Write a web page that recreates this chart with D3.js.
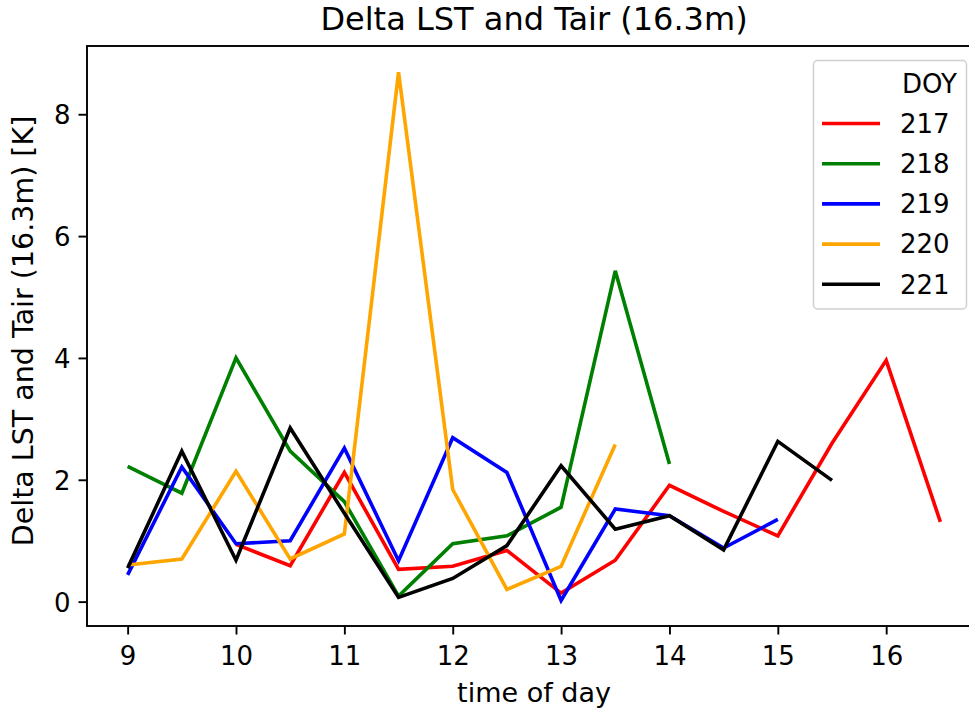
<!DOCTYPE html>
<html>
<head>
<meta charset="utf-8">
<script src="https://cdn.jsdelivr.net/npm/d3@7"></script>
<style>
body { margin: 0; background: #fff; }
svg text { font-family: "DejaVu Sans", sans-serif; fill: #000; }
</style>
</head>
<body>
<svg id="chart" width="969" height="714"></svg>
<script>
// DOY series: time of day and delta (K)
const t217 = [10, 10.5, 11, 11.5, 12, 12.5, 13, 13.5, 14, 14.5, 15, 15.5, 16, 16.5];
const v217 = [0.94, 0.59, 2.12, 0.53, 0.58, 0.84, 0.14, 0.68, 1.91, 1.48, 1.08, 2.6, 3.96, 1.31];

const t218 = [9, 9.5, 10, 10.5, 11, 11.5, 12, 12.5, 13, 13.5, 14];
const v218 = [2.22, 1.78, 4.0, 2.47, 1.64, 0.09, 0.95, 1.08, 1.55, 5.43, 2.26];

const t219 = [9, 9.5, 10, 10.5, 11, 11.5, 12, 12.5, 13, 13.5, 14, 14.5, 15];
const v219 = [0.44, 2.21, 0.95, 1.0, 2.52, 0.67, 2.69, 2.12, 0.02, 1.52, 1.41, 0.88, 1.35];

const t220 = [9, 9.5, 10, 10.5, 11, 11.5, 12, 12.5, 13, 13.5];
const v220 = [0.6, 0.7, 2.14, 0.7, 1.11, 8.69, 1.84, 0.2, 0.58, 2.58];

const t221 = [9, 9.5, 10, 10.5, 11, 11.5, 12, 12.5, 13, 13.5, 14, 14.5, 15, 15.5];
const v221 = [0.55, 2.47, 0.68, 2.85, 1.45, 0.07, 0.38, 0.92, 2.23, 1.19, 1.41, 0.85, 2.63, 1.99];

const doys = ["217", "218", "219", "220", "221"];
const colors = ["red", "green", "blue", "orange", "black"];
const xTicks = [9, 10, 11, 12, 13, 14, 15, 16];
const yTicks = [0, 2, 4, 6, 8];

const series = [
  {t: t217, v: v217}, {t: t218, v: v218}, {t: t219, v: v219},
  {t: t220, v: v220}, {t: t221, v: v221}
];

const svg = d3.select("#chart");

const m = {left: 87, right: 981, top: 46, bottom: 626};

const x = d3.scaleLinear().domain([8.625, 16.875]).range([m.left, m.right]);
const y = d3.scaleLinear().domain([-0.4, 9.12]).range([m.bottom, m.top]);

svg.append("defs").append("clipPath").attr("id", "clip")
  .append("rect")
  .attr("x", m.left).attr("y", m.top)
  .attr("width", m.right - m.left).attr("height", m.bottom - m.top);

// lines
const line = d3.line().x(d => x(d[0])).y(d => y(d[1]));
svg.append("g").attr("clip-path", "url(#clip)")
  .selectAll("path")
  .data(series)
  .enter().append("path")
  .attr("d", s => line(s.t.map((t, i) => [t, s.v[i]])))
  .attr("fill", "none")
  .attr("stroke", (s, i) => colors[i])
  .attr("stroke-width", 3.6)
  .attr("stroke-linejoin", "miter");

// axes
const xAxis = d3.axisBottom(x).tickValues(xTicks).tickSize(8.5).tickPadding(6)
  .tickFormat(d3.format("d"));
const yAxis = d3.axisLeft(y).tickValues(yTicks).tickSize(8.5).tickPadding(8)
  .tickFormat(d3.format("d"));

const gx = svg.append("g")
  .attr("transform", `translate(0,${m.bottom})`)
  .call(xAxis);
const gy = svg.append("g")
  .attr("transform", `translate(${m.left},0)`)
  .call(yAxis);

[gx, gy].forEach(g => {
  g.select(".domain").remove();
  g.selectAll(".tick line").attr("stroke", "#000").attr("stroke-width", 1.9);
  g.selectAll(".tick text").attr("font-size", 26).attr("font-family", "DejaVu Sans");
});
gx.selectAll(".tick text").attr("dy", "0.95em");
gy.selectAll(".tick text").attr("dy", "0.36em");

// frame
svg.append("rect")
  .attr("x", m.left).attr("y", m.top)
  .attr("width", m.right - m.left).attr("height", m.bottom - m.top)
  .attr("fill", "none").attr("stroke", "#000").attr("stroke-width", 1.9);

// title and labels
svg.append("text")
  .attr("x", 534).attr("y", 30)
  .attr("text-anchor", "middle").attr("font-size", 32)
  .text("Delta LST and Tair (16.3m)");

svg.append("text")
  .attr("x", 534).attr("y", 702)
  .attr("text-anchor", "middle").attr("font-size", 27)
  .text("time of day");

svg.append("text")
  .attr("transform", "translate(33,331) rotate(-90)")
  .attr("text-anchor", "middle").attr("font-size", 28.5)
  .text("Delta LST and Tair (16.3m) [K]");

// legend
const lg = svg.append("g");
lg.append("rect")
  .attr("x", 813.5).attr("y", 60.5)
  .attr("width", 153).attr("height", 248.5)
  .attr("rx", 4)
  .attr("fill", "#fff").attr("fill-opacity", 0.8)
  .attr("stroke", "#d0d0d0").attr("stroke-width", 1.5);

lg.append("text")
  .attr("x", 957).attr("y", 93)
  .attr("text-anchor", "end").attr("font-size", 26)
  .text("DOY");

const rows = lg.selectAll(".row").data(doys).enter().append("g")
  .attr("transform", (d, i) => `translate(0,${123.5 + i * 40.2})`);
rows.append("line")
  .attr("x1", 822).attr("x2", 880)
  .attr("stroke", (d, i) => colors[i]).attr("stroke-width", 3.6);
rows.append("text")
  .attr("x", 900).attr("y", 0).attr("dy", "0.36em")
  .attr("font-size", 26)
  .text(d => d);
</script>
</body>
</html>
